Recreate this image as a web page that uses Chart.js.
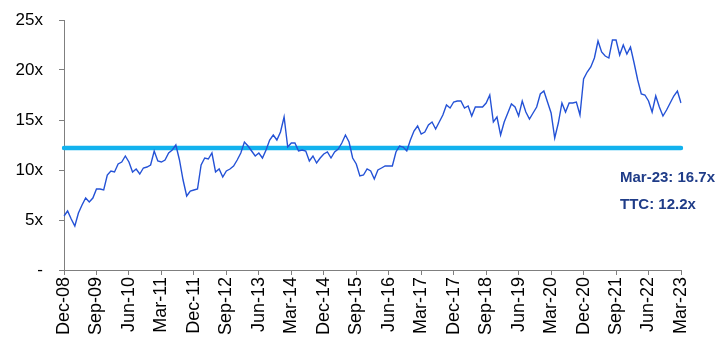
<!DOCTYPE html>
<html>
<head>
<meta charset="utf-8">
<script src="https://cdn.jsdelivr.net/npm/chart.js@4"></script>
<style>
  html, body { margin: 0; padding: 0; background: #fff; overflow: hidden; }
  #wrap { width: 721px; height: 338px; position: relative; }
</style>
</head>
<body>
<div id="wrap"><canvas id="c"></canvas></div>
<script>
// Month labels, Dec-08 .. Mar-23 (monthly)
const monthNames = ['Jan','Feb','Mar','Apr','May','Jun','Jul','Aug','Sep','Oct','Nov','Dec'];
const startYear = 2008, startMonth = 11, monthCount = 172;
const months = [];
for (let i = 0; i < monthCount; i++) {
  const m = (startMonth + i) % 12;
  const y = startYear + Math.floor((startMonth + i) / 12);
  months.push(monthNames[m] + '-' + String(y % 100).padStart(2, '0'));
}

// Tick labels shown on the x axis
const tickLabels = ['Dec-08','Sep-09','Jun-10','Mar-11','Dec-11','Sep-12','Jun-13','Mar-14','Dec-14','Sep-15',
  'Jun-16','Mar-17','Dec-17','Sep-18','Jun-19','Mar-20','Dec-20','Sep-21','Jun-22','Mar-23'];

// P/E multiple (x), monthly
const peValues = [
  5.4, 5.9, 5.1, 4.4, 5.7, 6.5, 7.2, 6.8, 7.2, 8.1, 8.1, 8.0,
  9.5, 9.9, 9.8, 10.6, 10.8, 11.4, 10.8, 9.8, 10.1, 9.6, 10.2, 10.3,
  10.5, 11.9, 10.9, 10.8, 11.0, 11.7, 12.0, 12.5, 11.0, 9.0, 7.4, 7.9,
  8.0, 8.1, 10.5, 11.2, 11.1, 11.7, 9.8, 10.1, 9.3, 9.9, 10.1, 10.4,
  11.0, 11.7, 12.8, 12.4, 11.9, 11.4, 11.7, 11.2, 12.0, 13.0, 13.5, 13.0,
  13.8, 15.3, 12.3, 12.7, 12.7, 11.9, 12.0, 11.9, 10.9, 11.4, 10.7, 11.2,
  11.6, 11.8, 11.2, 11.8, 12.1, 12.7, 13.5, 12.8, 11.2, 10.6, 9.4, 9.5,
  10.1, 9.9, 9.1, 10.0, 10.2, 10.4, 10.4, 10.4, 11.8, 12.4, 12.3, 11.9,
  13.0, 13.9, 14.4, 13.6, 13.8, 14.5, 14.8, 14.1, 14.8, 15.5, 16.5, 16.2,
  16.8, 16.9, 16.9, 16.2, 16.4, 15.4, 16.3, 16.3, 16.3, 16.7, 17.5, 14.8,
  15.3, 13.5, 14.8, 15.7, 16.6, 16.3, 15.4, 16.9, 15.8, 15.1, 15.7, 16.3,
  17.6, 17.9, 16.8, 15.7, 13.2, 14.7, 16.7, 15.8, 16.7, 16.7, 16.8, 15.5,
  19.1, 19.8, 20.3, 21.2, 22.9, 21.8, 21.4, 21.2, 23.0, 23.0, 21.5, 22.5,
  21.6, 22.3, 20.7, 19.0, 17.6, 17.5, 16.9, 15.8, 17.4, 16.3, 15.4, 16.0,
  16.7, 17.4, 17.9, 16.7
];

// Through-the-cycle average
const ttcValue = 12.2;
const ttcValues = months.map(() => ttcValue);

// Annotation texts
const annotations = ['Mar-23: 16.7x', 'TTC: 12.2x'];

const yTicks = [0, 5, 10, 15, 20, 25];

const annotationPlugin = {
  id: 'notes',
  afterDraw(chart) {
    const { ctx, chartArea } = chart;
    ctx.save();
    ctx.fillStyle = '#1F3C88';
    ctx.font = 'bold 15px "Liberation Sans", Arial, sans-serif';
    ctx.textAlign = 'left';
    ctx.textBaseline = 'middle';
    ctx.fillText(annotations[0], chartArea.right - 61, 178);
    ctx.fillText(annotations[1], chartArea.right - 61, 205);
    ctx.restore();
  }
};

const axisColor = '#7F7F7F';
const yFont = { family: '"Liberation Sans", Arial, sans-serif', size: 17 };
const xFont = { family: '"Liberation Sans", Arial, sans-serif', size: 18 };

new Chart(document.getElementById('c'), {
  type: 'line',
  data: {
    labels: months,
    datasets: [
      {
        label: 'TTC',
        data: ttcValues,
        borderColor: '#12B2EE',
        borderWidth: 4.5,
        borderCapStyle: 'round',
        pointRadius: 0,
        fill: false,
        order: 2
      },
      {
        label: 'P/E',
        data: peValues,
        borderColor: '#2452D6',
        borderWidth: 1.4,
        pointRadius: 0,
        tension: 0,
        fill: false,
        order: 1
      }
    ]
  },
  options: {
    responsive: true,
    maintainAspectRatio: false,
    animation: false,
    layout: { padding: { top: 20, right: 40, left: 0, bottom: 0 } },
    plugins: { legend: { display: false }, tooltip: { enabled: false } },
    scales: {
      x: {
        type: 'category',
        offset: false,
        afterFit(scale) { scale.height = 68; scale.paddingTop = 0; scale.paddingBottom = 0; },
        grid: { display: true, drawOnChartArea: false, drawTicks: true, tickLength: 5, color: axisColor },
        border: { display: true, color: axisColor, width: 1 },
        ticks: {
          autoSkip: false,
          minRotation: 90,
          maxRotation: 90,
          padding: 2,
          color: '#000',
          font: xFont,
          callback(val) {
            const lab = this.getLabelForValue(val);
            return tickLabels.includes(lab) ? lab : null;
          }
        }
      },
      y: {
        min: 0,
        max: 25,
        afterFit(scale) { scale.width = 64; scale.paddingTop = 0; scale.paddingBottom = 0; },
        afterBuildTicks(scale) { scale.ticks = yTicks.map(v => ({ value: v })); },
        grid: { display: true, drawOnChartArea: false, drawTicks: true, tickLength: 5, color: axisColor },
        border: { display: true, color: axisColor, width: 1 },
        ticks: {
          padding: 16,
          color: '#000',
          font: yFont,
          callback(v) { return v === 0 ? '-' : v + 'x'; }
        }
      }
    }
  },
  plugins: [annotationPlugin]
});
</script>
</body>
</html>
